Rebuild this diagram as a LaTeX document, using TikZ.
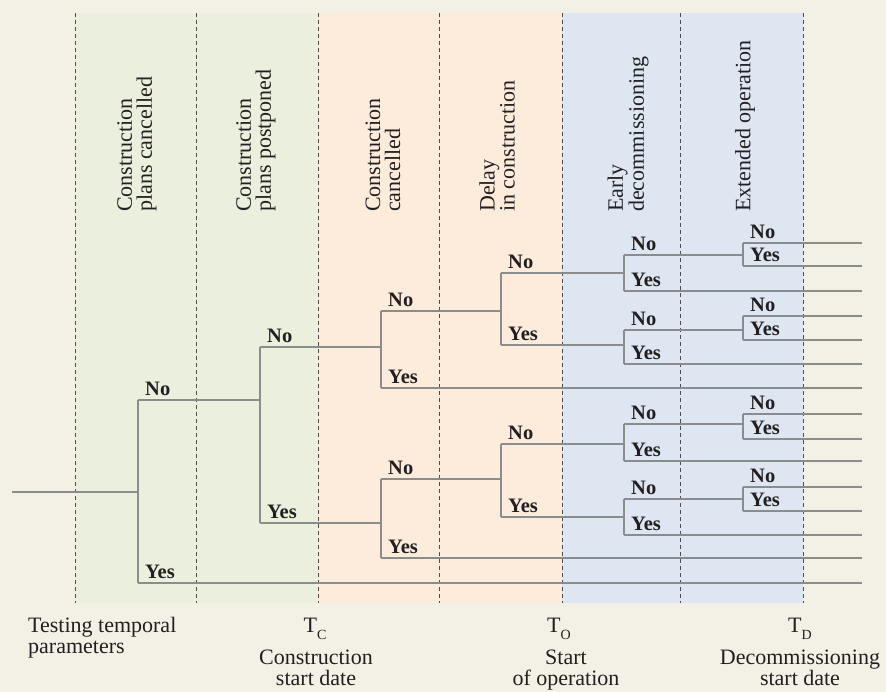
\documentclass[tikz,border=0pt]{standalone}
\usepackage{fontspec}
\setmainfont{Liberation Serif}
\usetikzlibrary{calc}
\definecolor{paper}{RGB}{243,240,230}
\definecolor{bandgreen}{RGB}{234,239,222}
\definecolor{bandorange}{RGB}{253,235,220}
\definecolor{bandblue}{RGB}{221,230,241}
\definecolor{treegray}{RGB}{138,140,142}
\definecolor{ink}{RGB}{35,31,32}
\tikzset{
	branch/.style={line width=1.1pt, color=treegray},
	phase/.style={line width=0.8pt, color=ink!80, dash pattern=on 4pt off 3pt},
	answer/.style={font=\fontsize{20.5}{22}\selectfont\bfseries, text=ink, anchor=base west, inner sep=0pt, xshift=7pt, yshift=4.5pt},
	event/.style={font=\fontsize{22}{20}\selectfont, text=ink, rotate=90, anchor=west, align=left, inner sep=0pt},
	milestone/.style={font=\fontsize{22}{20.5}\selectfont, text=ink, anchor=base, align=center, inner sep=0pt}
}
\def\fork(#1)(#2:#3:#4){%
	\coordinate (#1-no) at (#2,#3);
	\coordinate (#1-yes) at (#2,#4);
	\draw[branch] (#1-no) -- (#1-yes);
	\node[answer] (#1-nolab) at (#1-no) {No};
	\node[answer] (#1-yeslab) at (#1-yes) {Yes};
}
\def\tsub#1{T\raisebox{-7pt}{\fontsize{14}{14}\selectfont #1}}

\begin{document}
\begin{tikzpicture}[x=1pt, y=-1pt]
			%%%%% START %%%%%
			
			\path[use as bounding box, fill=paper] (0,0) rectangle (886,692);
			
			% phases
			\fill[bandgreen] (75,13) rectangle (318,603);
			\fill[bandorange] (318,13) rectangle (562,603);
			\fill[bandblue] (562,13) rectangle (803,603);
			\foreach \x in {75,196,318,439,562,680,803}
				\draw[phase] (\x,13) -- (\x,603);
			
			\node[event] (plans-cancelled) at (137,212) {Construction\\plans cancelled};
			\node[event] (plans-postponed) at (256,212) {Construction\\plans postponed};
			\node[event] (constr-cancelled) at (383,212) {Construction\\cancelled};
			\node[event] (delay) at (497,212) {Delay\\in construction};
			\node[event] (early) at (628,212) {Early\\decommissioning};
			\node[event] (extended) at (745,212) {Extended operation};
			
			% tree
			\coordinate (start) at (12,492);
			\coordinate (end) at (862,0);
			\fork(a)(138:400:583)
			\fork(b)(260:347:523)
			\fork(c1)(381:311:388)
			\fork(c2)(381:479:558)
			\fork(d1)(501:273:345)
			\fork(d2)(501:444:517)
			\fork(e1)(624:255:291)
			\fork(e2)(624:330:364)
			\fork(e3)(624:424:461)
			\fork(e4)(624:499:535)
			\fork(f1)(743:243:266)
			\fork(f2)(743:316:340)
			\fork(f3)(743:414:439)
			\fork(f4)(743:487:511)
			
			\draw[branch] (start) -- (start -| a-no);
			\draw[branch] (a-no) -- (a-no -| b-no);
			\draw[branch] (b-no) -- (b-no -| c1-no);
			\draw[branch] (b-yes) -- (b-yes -| c2-no);
			\draw[branch] (c1-no) -- (c1-no -| d1-no);
			\draw[branch] (c2-no) -- (c2-no -| d2-no);
			\draw[branch] (d1-no) -- (d1-no -| e1-no);
			\draw[branch] (d1-yes) -- (d1-yes -| e2-no);
			\draw[branch] (d2-no) -- (d2-no -| e3-no);
			\draw[branch] (d2-yes) -- (d2-yes -| e4-no);
			\draw[branch] (e1-no) -- (e1-no -| f1-no);
			\draw[branch] (e2-no) -- (e2-no -| f2-no);
			\draw[branch] (e3-no) -- (e3-no -| f3-no);
			\draw[branch] (e4-no) -- (e4-no -| f4-no);
			\foreach \p in {a-yes,c1-yes,c2-yes,e1-yes,e2-yes,e3-yes,e4-yes,f1-no,f1-yes,f2-no,f2-yes,f3-no,f3-yes,f4-no,f4-yes}
				\draw[branch] (\p) -- (\p -| end);
			
			% time axis
			\node[milestone, anchor=base west, align=left] (testing) at (28,653) {Testing temporal\\parameters};
			\node[milestone] (tc) at (315,632) {\tsub{C}};
			\node[milestone] (tc-text) at (316,685) {Construction\\start date};
			\node[milestone] (to) at (559,632) {\tsub{O}};
			\node[milestone] (to-text) at (566,685) {Start\\of operation};
			\node[milestone] (td) at (800,632) {\tsub{D}};
			\node[milestone] (td-text) at (800,685) {Decommissioning\\start date};
			
			%%%%% END %%%%%
\end{tikzpicture}
\end{document}
